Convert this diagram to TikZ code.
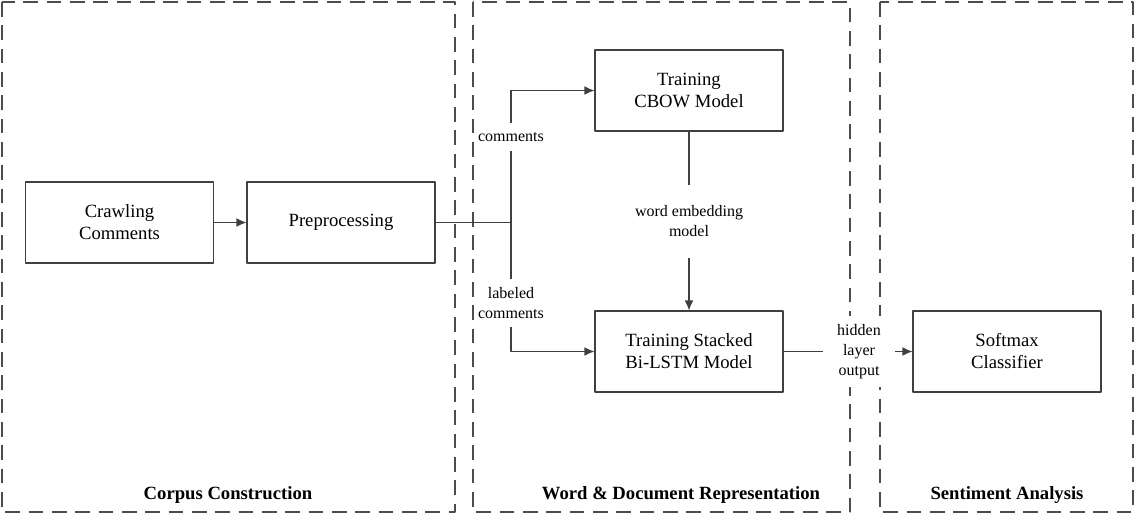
\documentclass[tikz,border=0pt]{standalone}
\usepackage{fontspec}
\setmainfont{Liberation Serif}
\usetikzlibrary{arrows.meta}
\tikzset{
	stage/.style={draw=black!70, line width=0.8pt, dash pattern=on 11pt off 6.5pt},
	block/.style={draw=black!75, line width=0.8pt, minimum width=141pt, minimum height=60.75pt, align=center, font=\fontsize{14}{16.5}\selectfont},
	tag/.style={fill=white, align=center, inner sep=1pt, font=\fontsize{12}{15}\selectfont},
	title/.style={font=\fontsize{14}{16}\selectfont\bfseries},
	link/.style={draw=black!75, line width=0.8pt}
}
\begin{document}
\begin{tikzpicture}[x=0.75pt, y=-0.75pt, >={Latex[length=7.5pt,width=6.5pt]}, line join=round]
	\useasboundingbox (0,0) rectangle (1135,515);
	% stages
	\draw[stage] (2,2) rectangle (455,512);
	\draw[stage] (473,2) rectangle (850,512);
	\draw[stage] (880,2) rectangle (1133,512);
	\node[title] (corpus) at (228,495) {Corpus Construction};
	\node[title] (repr) at (681,495) {Word \& Document Representation};
	\node[title] (senti) at (1007,495) {Sentiment Analysis};
	% blocks
	\node[block] (crawl) at (119.5,222.5) {Crawling\\Comments};
	\node[block] (prep) at (341,222.5) {Preprocessing};
	\node[block] (cbow) at (689,90.5) {Training\\CBOW Model};
	\node[block] (lstm) at (689,351.5) {Training Stacked\\Bi-LSTM Model};
	\node[block] (soft) at (1007,351.5) {Softmax\\Classifier};
	\coordinate (fork) at (511,222.5);
	% connectors
	\draw[link, ->] (crawl) -- (prep);
	\draw[link] (prep) -- (fork);
	\draw[link, ->] (fork) |- (cbow);
	\draw[link, ->] (fork) |- (lstm);
	\node[tag, inner ysep=7pt] (lbla) at (511,137) {comments};
	\node[tag, inner ysep=6pt] (lblb) at (511,303) {labeled\\comments};
	\draw[link, ->] (cbow) -- (lstm);
	\node[tag, inner ysep=16pt] (lblc) at (689,221.5) {word embedding\\model};
	\draw[link, ->] (lstm) -- (soft);
	\node[tag, inner ysep=6pt, inner xsep=11pt] (lbld) at (859,351.5) {hidden\\layer\\output};
\end{tikzpicture}
\end{document}
